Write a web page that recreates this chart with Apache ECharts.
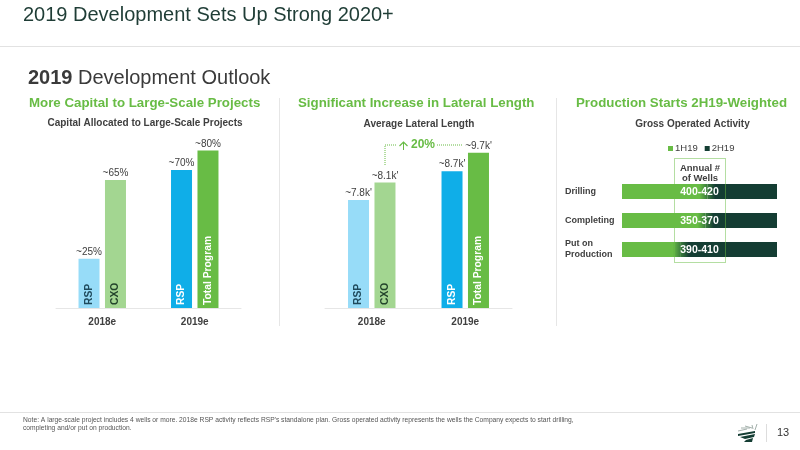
<!DOCTYPE html>
<html>
<head>
<meta charset="utf-8">
<style>html,body{margin:0;padding:0;background:#fff}#main{width:800px;height:450px}</style>
<script src="https://cdn.jsdelivr.net/npm/echarts@6/dist/echarts.min.js"></script>
</head>
<body>
<div id="main"></div>
<script>
var years = ['2018e', '2019e'];
var capitalLeft = [25, 70];
var capitalRight = [65, 80];
var capitalLeftLabels = ['~25%', '~70%'];
var capitalRightLabels = ['~65%', '~80%'];

// bar heights as drawn in the picture (they do not follow the printed labels exactly)
var lateralLeft = [6.75, 8.55];
var lateralRight = [7.85, 9.7];
var lateralLeftLabels = ["~7.8k'", "~8.7k'"];
var lateralRightLabels = ["~8.1k'", "~9.7k'"];

var leftNames = ['RSP', 'RSP'];
var rightNames = ['CXO', 'Total Program'];

var activities = ['Drilling', 'Completing', 'Put on\nProduction'];
var firstHalf = [55, 54, 38];
var secondHalf = [45, 46, 62];
var wellRanges = ['400-420', '350-370', '390-410'];

var FONT = '"Liberation Sans", Arial, sans-serif';
var GREEN = '#68bc45', DARK = '#143d33', LIGHTGREEN = '#a3d691', BLUE = '#0faee8', LIGHTBLUE = '#97dcf8';
var TEXT = '#404040';
var MID = '#3a7c3c';

var myChart = echarts.init(document.getElementById('main'));

function columnSeries(idx, left, right, leftLabels, rightLabels) {
  function valueSeries(data, labels, colors) {
    return {
      type: 'bar', xAxisIndex: idx * 2, yAxisIndex: idx, barWidth: 21, barGap: '26%', silent: true,
      data: data.map(function (v, i) {
        return { value: v, itemStyle: { color: colors[i] } };
      }),
      label: {
        show: true, position: 'top', distance: 1.5, fontFamily: FONT, fontSize: 10, color: TEXT,
        formatter: function (p) { return labels[p.dataIndex]; }
      }
    };
  }
  function nameSeries(data, names, textColors) {
    return {
      type: 'bar', xAxisIndex: idx * 2 + 1, yAxisIndex: idx, barWidth: 21, barGap: '26%', silent: true,
      itemStyle: { color: 'transparent' },
      data: data.map(function (v, i) {
        return {
          value: v,
          label: {
            show: true, position: 'insideBottom', rotate: 90, align: 'left', verticalAlign: 'middle',
            distance: 3, fontFamily: FONT, fontSize: 10.3, fontWeight: 'bold', color: textColors[i],
            formatter: names[i]
          }
        };
      })
    };
  }
  return [
    valueSeries(left, leftLabels, [LIGHTBLUE, BLUE]),
    valueSeries(right, rightLabels, [LIGHTGREEN, GREEN]),
    nameSeries(left, leftNames, ['#1f4a5c', '#ffffff']),
    nameSeries(right, rightNames, ['#24452c', '#ffffff'])
  ];
}

function yearAxes(gridIndex) {
  return [{
    type: 'category', gridIndex: gridIndex, data: years,
    axisTick: { show: false },
    axisLine: { lineStyle: { color: '#e6e6e6', width: 1 } },
    axisLabel: { margin: 9, fontFamily: FONT, fontSize: 10, fontWeight: 'bold', color: TEXT }
  }, {
    type: 'category', gridIndex: gridIndex, data: years, show: false
  }];
}

function text(x, y, str, size, color, weight, align) {
  return {
    type: 'text', x: x, y: y, silent: true,
    style: {
      text: str, fontFamily: FONT, fontSize: size, fill: color, fontWeight: weight || 'normal',
      align: align || 'left', verticalAlign: 'middle'
    }
  };
}

function rule(x1, y1, x2, y2, color, dash) {
  return {
    type: 'line', silent: true, shape: { x1: x1, y1: y1, x2: x2, y2: y2 },
    style: { stroke: color, lineWidth: 1, lineDash: dash || null }
  };
}

function ray(x1, y1, x2, y2) {
  return rule(x1, y1, x2, y2, '#a3b0ab');
}

function field(points) {
  return { type: 'polygon', silent: true, shape: { points: points }, style: { fill: DARK } };
}

myChart.setOption({
  animation: false,
  backgroundColor: '#fff',
  grid: [
    { left: 56, top: 111, width: 185, height: 197 },
    { left: 325, top: 148, width: 187, height: 160 },
    { left: 622, top: 177, width: 155, height: 87 }
  ],
  xAxis: yearAxes(0).concat(yearAxes(1)).concat([
    { type: 'value', gridIndex: 2, min: 0, max: 100, show: false }
  ]),
  yAxis: [
    { type: 'value', gridIndex: 0, min: 0, max: 100, show: false },
    { type: 'value', gridIndex: 1, min: 0, max: 10, show: false },
    {
      type: 'category', gridIndex: 2, inverse: true, data: activities,
      axisLine: { show: false }, axisTick: { show: false },
      axisLabel: {
        margin: 57, align: 'left', fontFamily: FONT, fontSize: 9, fontWeight: 'bold', color: TEXT, lineHeight: 11
      }
    },
    { type: 'category', gridIndex: 2, inverse: true, data: activities, show: false }
  ],
  legend: {
    data: ['1H19', '2H19'], left: 668, top: 143.5, padding: 0, itemWidth: 5, itemHeight: 5, itemGap: 7,
    icon: 'rect', selectedMode: false,
    textStyle: { fontFamily: FONT, fontSize: 9.5, color: TEXT, padding: [0, 0, 0, -3] }
  },
  series: columnSeries(0, capitalLeft, capitalRight, capitalLeftLabels, capitalRightLabels)
    .concat(columnSeries(1, lateralLeft, lateralRight, lateralLeftLabels, lateralRightLabels))
    .concat([
      {
        name: '1H19', type: 'bar', stack: 'wells', xAxisIndex: 4, yAxisIndex: 2, barWidth: 15, silent: true,
        itemStyle: { color: GREEN },
        data: firstHalf.map(function (v) {
          return {
            value: v,
            itemStyle: {
              color: new echarts.graphic.LinearGradient(0, 0, 1, 0, [
                { offset: 0, color: GREEN },
                { offset: 1 - 8 / (v * 1.55), color: GREEN },
                { offset: 1, color: MID }
              ])
            }
          };
        })
      },
      {
        name: '2H19', type: 'bar', stack: 'wells', xAxisIndex: 4, yAxisIndex: 2, barWidth: 15, silent: true,
        itemStyle: { color: DARK },
        data: secondHalf.map(function (v) {
          return {
            value: v,
            itemStyle: {
              color: new echarts.graphic.LinearGradient(0, 0, 1, 0, [
                { offset: 0, color: MID },
                { offset: 8 / (v * 1.55), color: DARK },
                { offset: 1, color: DARK }
              ])
            }
          };
        })
      },
      {
        type: 'bar', xAxisIndex: 4, yAxisIndex: 3, barWidth: 15, silent: true,
        itemStyle: { color: 'transparent' },
        data: wellRanges.map(function () { return 100; }),
        label: {
          show: true, position: 'inside', offset: [0, 1], fontFamily: FONT, fontSize: 10.5, fontWeight: 'bold', color: '#fff',
          formatter: function (p) { return wellRanges[p.dataIndex]; }
        }
      }
    ]),
  graphic: [
    text(23, 15, '2019 Development Sets Up Strong 2020+', 20, '#1f3d36'),
    rule(0, 46.5, 800, 46.5, '#e2e2e2'),
    {
      type: 'text', x: 28, y: 78, silent: true,
      style: {
        text: '{b|2019} Development Outlook', verticalAlign: 'middle',
        rich: {
          b: { fontFamily: FONT, fontSize: 20, fontWeight: 'bold', fill: '#3a3a3a' }
        },
        fontFamily: FONT, fontSize: 20, fill: '#3a3a3a'
      }
    },
    text(29, 103, 'More Capital to Large-Scale Projects', 13.3, GREEN, 'bold'),
    text(298, 103, 'Significant Increase in Lateral Length', 13.3, GREEN, 'bold'),
    text(576, 103, 'Production Starts 2H19-Weighted', 13.3, GREEN, 'bold'),
    text(145, 123, 'Capital Allocated to Large-Scale Projects', 10, TEXT, 'bold', 'center'),
    text(419, 124, 'Average Lateral Length', 10, TEXT, 'bold', 'center'),
    text(692.5, 124, 'Gross Operated Activity', 10, TEXT, 'bold', 'center'),
    rule(279.5, 98, 279.5, 326, '#e6e6e6'),
    rule(556.5, 98, 556.5, 326, '#e6e6e6'),

    // 20% growth connector
    {
      type: 'polyline', silent: true, shape: { points: [[385, 165], [385, 145], [397, 145]] },
      style: { stroke: GREEN, lineWidth: 1, lineDash: [1, 1], fill: null }
    },
    rule(437, 145, 462, 145, GREEN, [1, 1]),
    rule(403.5, 150, 403.5, 142, GREEN),
    {
      type: 'polyline', silent: true, shape: { points: [[399.5, 146], [403.5, 142], [407.5, 146]] },
      style: { stroke: GREEN, lineWidth: 1.2, fill: null }
    },
    text(411, 145, '20%', 12, GREEN, 'bold'),

    // annual wells box
    {
      type: 'rect', silent: true, z: 5, shape: { x: 674.5, y: 158.5, width: 51, height: 104 },
      style: { stroke: GREEN, lineWidth: 1, lineDash: [1, 1], fill: null }
    },
    text(700, 168, 'Annual #', 9.5, TEXT, 'bold', 'center'),
    text(700, 178.5, 'of Wells', 9.5, TEXT, 'bold', 'center'),

    // footer
    rule(0, 412.5, 800, 412.5, '#e2e2e2'),
    text(23, 420.5, 'Note: A large-scale project includes 4 wells or more. 2018e RSP activity reflects RSP\'s standalone plan. Gross operated activity represents the wells the Company expects to start drilling,', 6.7, '#555'),
    text(23, 428.5, 'completing and/or put on production.', 6.7, '#555'),
    rule(766.5, 424, 766.5, 442, '#dddddd'),
    text(777, 433, '13', 11, '#333'),

    // logo
    field([[738, 434], [755, 431], [755, 433], [738, 436]]),
    field([[740, 437], [755, 434], [754, 437], [745, 439]]),
    field([[746, 440], [753, 438], [752, 442], [744, 442]]),
    ray(738, 431, 747, 429),
    ray(741, 428, 750, 428),
    ray(745, 426, 752, 428),
    ray(752, 425, 753, 429),
    ray(757, 424, 755, 430)
  ]
});
</script>
</body>
</html>
